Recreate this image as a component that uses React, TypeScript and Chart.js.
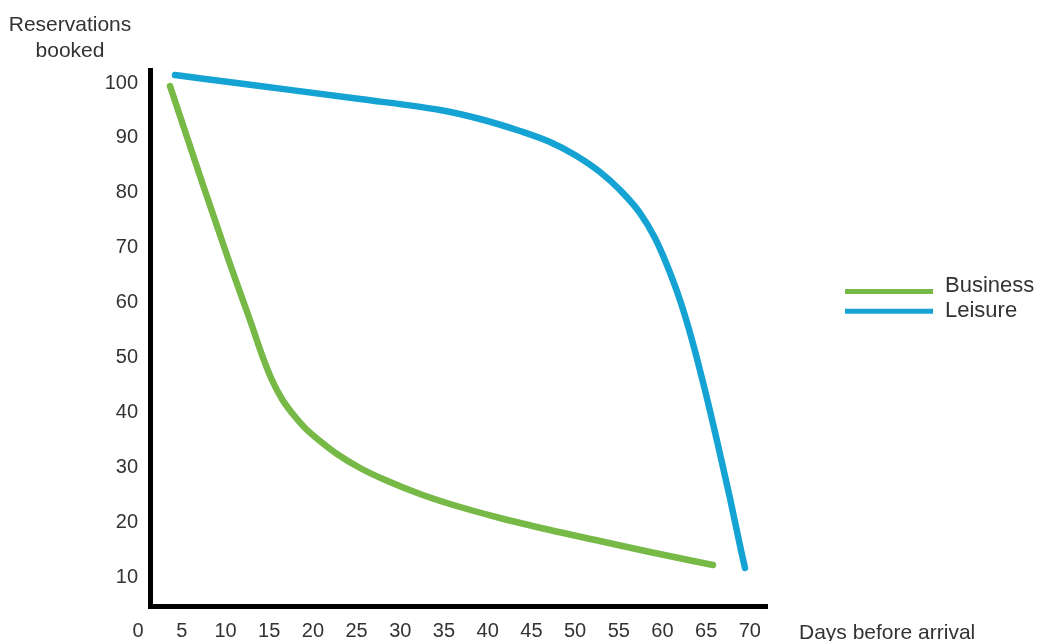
import { useEffect, useRef } from "react";
import { Chart, registerables } from "chart.js";

Chart.register(...registerables);

// ---- Data ----
const seriesNames = ["Business", "Leisure"];

const businessDays = [3.65, 7.08, 10.51, 12.8, 14.18, 15.32, 16.46, 17.61, 19.1, 20.81, 22.76, 25.39, 28.02, 32.25, 35.69, 41.41, 47.13, 52.85, 58.57, 65.78];
const businessBooked = [99.45, 83.06, 67.02, 56.82, 50.44, 45.89, 42.43, 39.88, 37.15, 34.78, 32.41, 29.86, 27.85, 25.12, 23.3, 20.75, 18.56, 16.56, 14.55, 12.19];

const leisureDays = [4.22, 13.95, 25.39, 34.54, 39.12, 43.7, 47.13, 49.99, 52.85, 55.14, 57.43, 59.14, 60.51, 62.0, 63.38, 64.86, 66.35, 67.72, 68.98, 69.44];
const leisureBooked = [101.45, 99.45, 97.08, 95.08, 93.44, 91.25, 89.25, 86.88, 83.78, 80.5, 76.31, 71.76, 66.84, 60.46, 53.18, 44.07, 34.05, 24.39, 14.92, 11.64];

const xTickValues = [0, 5, 10, 15, 20, 25, 30, 35, 40, 45, 50, 55, 60, 65, 70];
const yTickValues = [10, 20, 30, 40, 50, 60, 70, 80, 90, 100];

const yAxisTitle = ["Reservations", "booked"];
const xAxisTitle = "Days before arrival";

const seriesColors = ["#76b947", "#14a3d3"];

const FONT = "'Liberation Sans', Arial, sans-serif";
const TEXT_COLOR = "#333333";

const textPlugin = {
  id: "textPlugin",
  afterDraw(chart: any) {
    const ctx = chart.ctx as CanvasRenderingContext2D;
    const area = chart.chartArea;
    ctx.save();
    ctx.fillStyle = TEXT_COLOR;
    // Y axis title (two lines, top-left)
    ctx.font = `21px ${FONT}`;
    ctx.textAlign = "center";
    ctx.textBaseline = "alphabetic";
    ctx.fillText(yAxisTitle[0], area.left - 80, 31);
    ctx.fillText(yAxisTitle[1], area.left - 80, 56.5);
    // X axis title (right of the axis)
    ctx.textAlign = "left";
    ctx.fillText(xAxisTitle, area.right + 32, 638.5);
    // Legend
    const lx = area.right + 78;
    const rows = [291.5, 311.3];
    const textBase = [291.5, 316.5];
    chart.data.datasets.forEach((ds: any, i: number) => {
      ctx.strokeStyle = ds.borderColor;
      ctx.lineWidth = 5;
      ctx.lineCap = "butt";
      ctx.beginPath();
      ctx.moveTo(lx, rows[i]);
      ctx.lineTo(lx + 88, rows[i]);
      ctx.stroke();
      ctx.fillStyle = TEXT_COLOR;
      ctx.font = `22px ${FONT}`;
      ctx.textAlign = "left";
      ctx.fillText(ds.label, lx + 100, textBase[i]);
    });
    ctx.restore();
  },
};

export default function App() {
  const canvasRef = useRef<HTMLCanvasElement | null>(null);

  useEffect(() => {
    if (!canvasRef.current) return;
    const makeDataset = (i: number, xs: number[], ys: number[]) => ({
      label: seriesNames[i],
      data: xs.map((d, k) => ({ x: d, y: ys[k] })),
      borderColor: seriesColors[i],
      backgroundColor: seriesColors[i],
      borderWidth: 6.5,
      borderCapStyle: "round",
      borderJoinStyle: "round",
      pointRadius: 0,
      cubicInterpolationMode: "monotone",
      fill: false,
      clip: false,
    });
    const chart = new Chart(canvasRef.current, {
      type: "line",
      data: {
        datasets: [
          makeDataset(0, businessDays, businessBooked),
          makeDataset(1, leisureDays, leisureBooked),
        ],
      },
      options: {
        animation: false,
        responsive: true,
        maintainAspectRatio: false,
        devicePixelRatio: 1,
        layout: { padding: { top: 70, right: 275, bottom: 0, left: 0 } },
        plugins: {
          legend: { display: false },
          tooltip: { enabled: false },
          title: { display: false },
        },
        scales: {
          x: {
            type: "linear",
            min: 1.36,
            max: 71.96,
            afterBuildTicks: (s: any) => {
              s.ticks = xTickValues.map((v) => ({ value: v }));
            },
            afterFit: (s: any) => {
              s.height = 35;
            },
            ticks: {
              autoSkip: false,
              maxRotation: 0,
              padding: 13,
              color: TEXT_COLOR,
              font: { family: FONT, size: 20 },
            },
            grid: { display: false, drawTicks: false },
            border: { display: true, color: "#000000", width: 5 },
          },
          y: {
            type: "linear",
            min: 4.72,
            max: 102.37,
            afterBuildTicks: (s: any) => {
              s.ticks = yTickValues.map((v) => ({ value: v }));
            },
            afterFit: (s: any) => {
              s.width = 150;
            },
            ticks: {
              autoSkip: false,
              padding: 12,
              color: TEXT_COLOR,
              font: { family: FONT, size: 20 },
            },
            grid: { display: false, drawTicks: false },
            border: { display: true, color: "#000000", width: 5 },
          },
        },
      },
      plugins: [textPlugin],
    } as any);
    return () => chart.destroy();
  }, []);

  return (
    <div style={{ position: "fixed", left: 0, top: 0, width: "1042px", height: "641px", background: "#ffffff" }}>
      <canvas ref={canvasRef} />
    </div>
  );
}
